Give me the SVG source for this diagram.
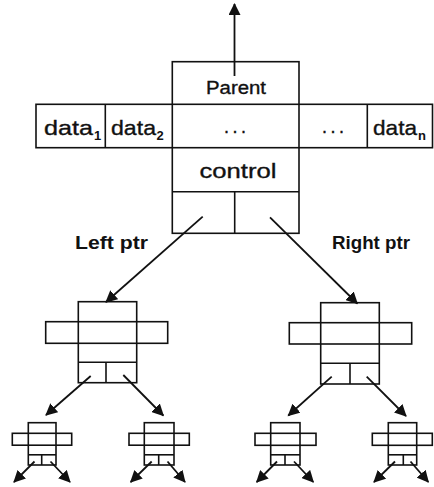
<svg xmlns="http://www.w3.org/2000/svg" width="434" height="487" viewBox="0 0 434 487">
  <style>
    .box { fill: none; stroke: #111; stroke-width: 1.6; }
    .ln { stroke: #111; stroke-width: 1.6; fill: none; }
    .arr { stroke: #111; stroke-width: 1.8; fill: none; marker-end: url(#head); }
    .t { font-family: "Liberation Sans", Arial, sans-serif; fill: #111; stroke: #111; stroke-width: 0.35; }
    .lbl { font-size: 21px; }
    .sub { font-size: 13px; font-weight: bold; stroke-width: 0; }
    .ptr { font-size: 18px; font-weight: bold; stroke-width: 0; }
  </style>
  <defs>
    <marker id="head" markerUnits="userSpaceOnUse" markerWidth="13" markerHeight="12" refX="11" refY="6" orient="auto">
      <path d="M0,0 L12,6 L0,12 Z" fill="#111"/>
    </marker>
  </defs>
  <rect width="434" height="487" fill="#fff"/>

  <!-- root node: parent / data fields / control / child pointers -->
  <g id="root">
    <rect class="box" x="36" y="104.3" width="396.5" height="43.4"/>
    <line class="ln" x1="105.3" y1="104.3" x2="105.3" y2="147.7"/>
    <line class="ln" x1="367.3" y1="104.3" x2="367.3" y2="147.7"/>
    <rect class="box" x="172.3" y="61.7" width="126.7" height="171.6"/>
    <line class="ln" x1="172.3" y1="191.7" x2="299" y2="191.7"/>
    <line class="ln" x1="234.7" y1="191.7" x2="234.7" y2="233.3"/>
    <text class="t" x="206" y="93.5" font-size="18" textLength="60" lengthAdjust="spacingAndGlyphs">Parent</text>
    <text class="t lbl" y="134.5"><tspan x="44" textLength="49" lengthAdjust="spacingAndGlyphs">data</tspan><tspan class="sub" x="94" y="139.5">1</tspan></text>
    <text class="t lbl" y="134.5"><tspan x="111" textLength="45" lengthAdjust="spacingAndGlyphs">data</tspan><tspan class="sub" x="156.5" y="139.5">2</tspan></text>
    <text class="t" x="224" y="133" font-size="18" textLength="22" lengthAdjust="spacing">...</text>
    <text class="t" x="322" y="133" font-size="18" textLength="22" lengthAdjust="spacing">...</text>
    <text class="t lbl" y="134.5"><tspan x="373" textLength="44" lengthAdjust="spacingAndGlyphs">data</tspan><tspan class="sub" x="418" y="139.5">n</tspan></text>
    <text class="t" x="199.5" y="178.3" font-size="21" textLength="77" lengthAdjust="spacingAndGlyphs">control</text>
  </g>

  <!-- second level -->
  <g id="node-l">
    <rect class="box" x="45.7" y="321.7" width="122" height="21.6"/>
    <rect class="box" x="78.3" y="301.7" width="58.4" height="81"/>
    <line class="ln" x1="78.3" y1="362.3" x2="136.7" y2="362.3"/>
    <line class="ln" x1="106" y1="362.3" x2="106" y2="382.7"/>
  </g>
  <g id="node-r">
    <rect class="box" x="289.3" y="322.7" width="122.4" height="21.3"/>
    <rect class="box" x="320.7" y="302.7" width="58.6" height="81.3"/>
    <line class="ln" x1="320.7" y1="363.3" x2="379.3" y2="363.3"/>
    <line class="ln" x1="350" y1="363.3" x2="350" y2="384"/>
  </g>

  <!-- third level -->
  <g id="node-ll">
    <rect class="box" x="12.3" y="433.3" width="59.4" height="11.9"/>
    <rect class="box" x="28.3" y="422.7" width="27.7" height="42.3"/>
    <line class="ln" x1="28.3" y1="454.8" x2="56" y2="454.8"/>
    <line class="ln" x1="41.7" y1="454.8" x2="41.7" y2="465"/>
  </g>
  <g id="node-lr">
    <rect class="box" x="129" y="433.3" width="60.3" height="11.9"/>
    <rect class="box" x="144.3" y="422.7" width="29.7" height="42.3"/>
    <line class="ln" x1="144.3" y1="454.8" x2="174" y2="454.8"/>
    <line class="ln" x1="158.7" y1="454.8" x2="158.7" y2="465"/>
  </g>
  <g id="node-rl">
    <rect class="box" x="255" y="433.3" width="61" height="12"/>
    <rect class="box" x="270.7" y="422.7" width="29.3" height="42.3"/>
    <line class="ln" x1="270.7" y1="454.8" x2="300" y2="454.8"/>
    <line class="ln" x1="285" y1="454.8" x2="285" y2="465"/>
  </g>
  <g id="node-rr">
    <rect class="box" x="372.3" y="433.3" width="60" height="12"/>
    <rect class="box" x="388.3" y="422.7" width="28.4" height="42.3"/>
    <line class="ln" x1="388.3" y1="454.8" x2="416.7" y2="454.8"/>
    <line class="ln" x1="403.3" y1="454.8" x2="403.3" y2="465"/>
  </g>

  <!-- pointer labels -->
  <text class="t ptr" x="75" y="249" textLength="73" lengthAdjust="spacingAndGlyphs">Left ptr</text>
  <text class="t ptr" x="332" y="249" textLength="78" lengthAdjust="spacingAndGlyphs">Right ptr</text>

  <!-- pointers -->
  <g id="connectors">
    <line class="arr" x1="234.5" y1="76" x2="234.5" y2="4"/>
    <line class="arr" x1="202.7" y1="216.7" x2="106" y2="302"/>
    <line class="arr" x1="270" y1="217.3" x2="357.3" y2="303.5"/>

    <line class="arr" x1="90.7" y1="376" x2="46" y2="415"/>
    <line class="arr" x1="123.3" y1="375" x2="163.3" y2="415.5"/>
    <line class="arr" x1="331.7" y1="376.7" x2="288.3" y2="415.5"/>
    <line class="arr" x1="366.7" y1="376.7" x2="406" y2="416"/>

    <line class="arr" x1="34.5" y1="461.5" x2="14" y2="482"/>
    <line class="arr" x1="50.5" y1="461.5" x2="70" y2="482"/>
    <line class="arr" x1="151.7" y1="461.5" x2="130.7" y2="482"/>
    <line class="arr" x1="167.5" y1="461.5" x2="185" y2="482"/>
    <line class="arr" x1="277" y1="461.5" x2="256.7" y2="482"/>
    <line class="arr" x1="294" y1="461.5" x2="313.3" y2="482"/>
    <line class="arr" x1="395" y1="461.5" x2="374" y2="482"/>
    <line class="arr" x1="410.5" y1="461.5" x2="428.3" y2="482"/>
  </g>
</svg>
